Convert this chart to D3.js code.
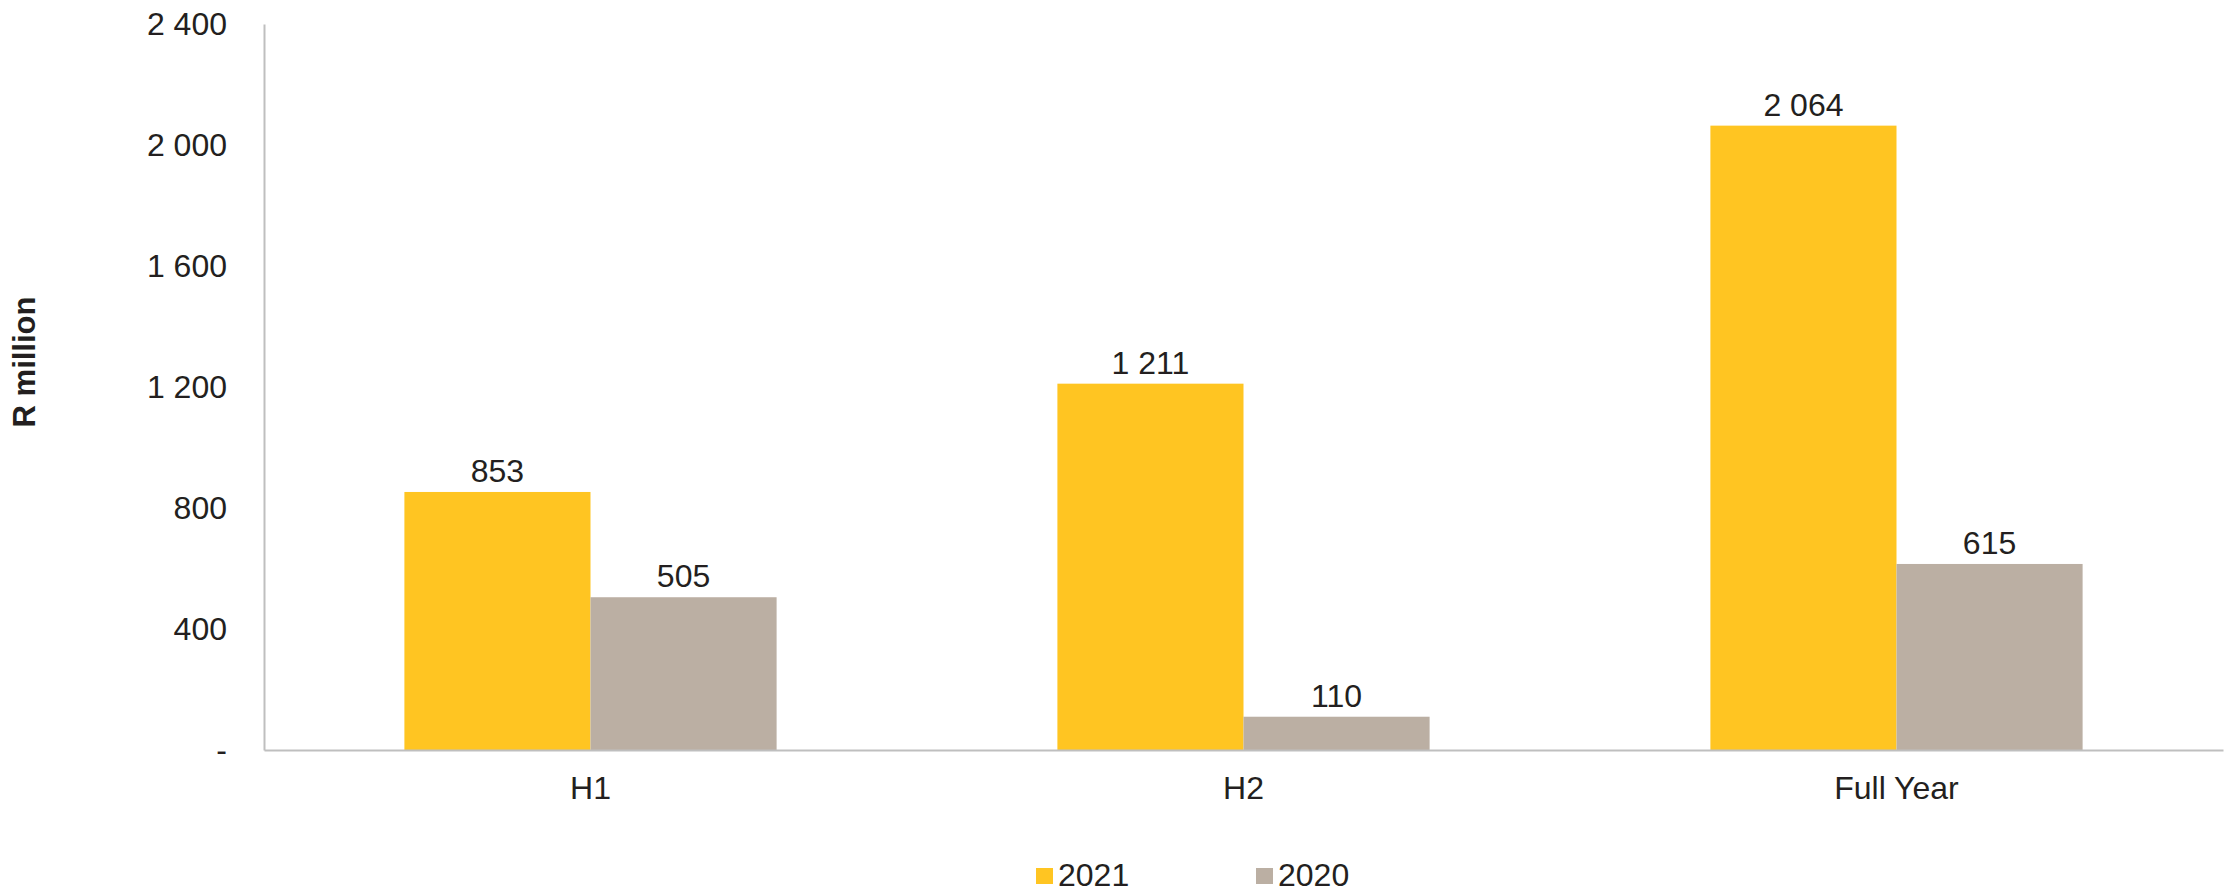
<!DOCTYPE html>
<html>
<head>
<meta charset="utf-8">
<script src="https://cdn.jsdelivr.net/npm/d3@7"></script>
<style>
  body { margin: 0; background: #fff; }
  text { font-family: "Liberation Sans", Arial, sans-serif; fill: #231f20; }
</style>
</head>
<body>
<div id="chart"></div>
<script>
let categories = ['H1', 'H2', 'Full Year'],
    seriesNames = ['2021', '2020'],
    values2021 = [853, 1211, 2064],
    values2020 = [505, 110, 615],
    yTicks = [0, 400, 800, 1200, 1600, 2000, 2400],
    colors = ['#ffc522', '#bbafa3'];

let width = 2227,
    height = 892,
    margin = {left: 264, top: 24, right: 4, bottom: 142},
    plotWidth = width - margin.left - margin.right,
    plotHeight = height - margin.top - margin.bottom;

let svg = d3.select('#chart').append('svg')
    .attr('width', width)
    .attr('height', height)
    .append('g')
    .attr('transform', `translate(${margin.left}, ${margin.top})`);

let xScale = d3.scaleBand()
    .domain(categories)
    .range([0, plotWidth]);

let barWidth = xScale.bandwidth() * 0.285;

let subScale = d3.scaleBand()
    .domain(seriesNames)
    .range([xScale.bandwidth() / 2 - barWidth, xScale.bandwidth() / 2 + barWidth]);

let yScale = d3.scaleLinear()
    .domain([0, 2400])
    .range([plotHeight, 0]);

let fmt = v => v === 0 ? '-' : d3.format(',')(v).replace(/,/g, ' ');

// y axis labels, no ticks
let yAxis = svg.append('g')
    .attr('class', 'y-axis')
    .call(d3.axisLeft(yScale).tickValues(yTicks).tickFormat(fmt).tickSize(0).tickPadding(37));
yAxis.select('.domain').attr('stroke', '#bfbfbf').attr('stroke-width', 2);
yAxis.selectAll('text')
    .attr('font-size', 32)
    .style('font-family', '"Liberation Sans", Arial, sans-serif')
    .attr('fill', '#231f20');

let rows = categories.map((c, i) => ({cat: c, vals: [values2021[i], values2020[i]]}));

let groups = svg.append('g')
    .selectAll('g')
    .data(rows)
    .join('g')
    .attr('transform', d => `translate(${xScale(d.cat)}, 0)`);

groups.selectAll('rect')
    .data(d => d.vals.map((v, j) => ({key: seriesNames[j], v: v, j: j})))
    .join('rect')
    .attr('x', d => subScale(d.key))
    .attr('width', subScale.bandwidth())
    .attr('y', d => yScale(d.v))
    .attr('height', d => plotHeight - yScale(d.v))
    .attr('fill', d => colors[d.j]);

groups.selectAll('text.val')
    .data(d => d.vals.map((v, j) => ({key: seriesNames[j], v: v})))
    .join('text')
    .attr('class', 'val')
    .attr('x', d => subScale(d.key) + subScale.bandwidth() / 2)
    .attr('y', d => yScale(d.v) - 10)
    .attr('text-anchor', 'middle')
    .attr('font-size', 32)
    .text(d => fmt(d.v));

// x axis
let xAxis = svg.append('g')
    .attr('class', 'x-axis')
    .attr('transform', `translate(0, ${plotHeight})`)
    .call(d3.axisBottom(xScale).tickSize(0).tickPadding(26));
xAxis.select('.domain').attr('stroke', '#bfbfbf').attr('stroke-width', 2);
xAxis.selectAll('text')
    .attr('font-size', 32)
    .style('font-family', '"Liberation Sans", Arial, sans-serif')
    .attr('fill', '#231f20');

// y title
svg.append('text')
    .attr('transform', `translate(${24 - margin.left + 11}, ${362 - margin.top}) rotate(-90)`)
    .attr('text-anchor', 'middle')
    .attr('font-size', 31)
    .attr('font-weight', 'bold')
    .text('R million');

// legend
let legend = svg.append('g')
    .attr('transform', `translate(${1036 - margin.left}, ${868 - margin.top})`)
    .selectAll('g')
    .data(seriesNames)
    .join('g')
    .attr('transform', (d, i) => `translate(${i * 220}, 0)`);

legend.append('rect')
    .attr('width', 17)
    .attr('height', 16)
    .attr('fill', (d, i) => colors[i]);

legend.append('text')
    .attr('x', 22)
    .attr('y', 18)
    .attr('font-size', 32)
    .text(d => d);
</script>
</body>
</html>
